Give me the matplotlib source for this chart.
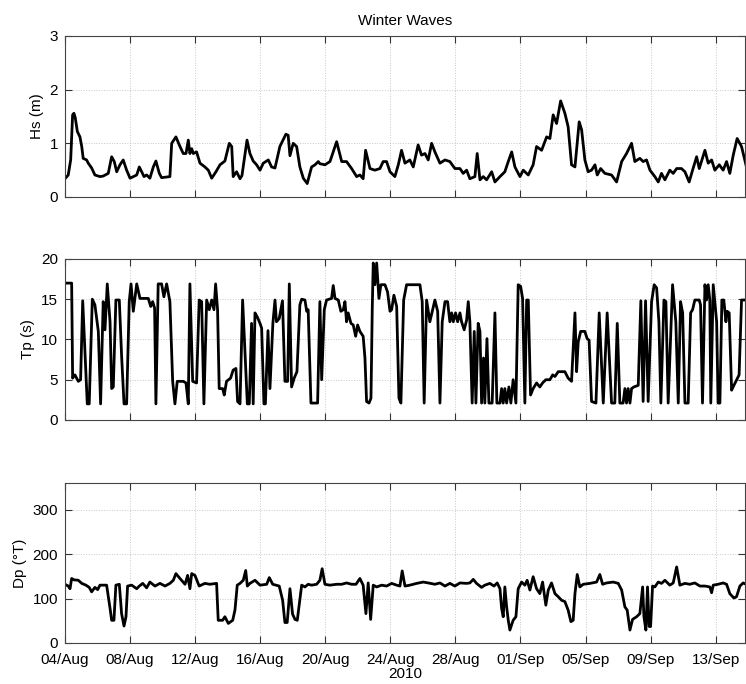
import numpy as np
import pandas as pd
import matplotlib
matplotlib.use("Agg")
import matplotlib.pyplot as plt
import matplotlib.dates as mdates


START = pd.Timestamp("2010-08-04")
END_DAYS = 41.8

# days since 04/Aug 2010 and wave height (m)
hs_day = [0.00, 0.20, 0.35, 0.47, 0.55, 0.63, 0.76, 0.92, 1.03, 1.12, 1.33, 1.43, 1.64, 1.84,
          2.15, 2.35, 2.66, 2.87, 3.03, 3.18, 3.38, 3.58, 3.79, 4.00, 4.41, 4.57, 4.86, 5.02,
          5.22, 5.43, 5.59, 5.80, 5.94, 6.45, 6.56, 6.82, 7.07, 7.27, 7.44, 7.58, 7.68, 7.79,
          7.89, 8.09, 8.30, 8.60, 8.81, 9.02, 9.28, 9.53, 9.83, 10.10, 10.25, 10.34, 10.55,
          10.76, 10.88, 11.19, 11.37, 11.57, 11.78, 11.99, 12.19, 12.50, 12.70, 12.91, 13.21,
          13.58, 13.72, 13.83, 14.03, 14.24, 14.44, 14.65, 14.89, 15.16, 15.37, 15.57, 15.67,
          15.98, 16.29, 16.70, 17.01, 17.31, 17.62, 17.93, 18.13, 18.33, 18.48, 18.75, 19.05,
          19.36, 19.56, 19.77, 19.98, 20.28, 20.49, 20.69, 20.90, 21.20, 21.41, 21.71, 21.92,
          22.13, 22.33, 22.54, 22.74, 23.05, 23.36, 23.66, 23.97, 24.28, 24.48, 24.69, 24.89,
          25.20, 25.34, 25.51, 25.71, 25.92, 26.23, 26.43, 26.74, 27.04, 27.25, 27.46, 27.66,
          27.76, 27.97, 28.17, 28.48, 28.78, 28.99, 29.30, 29.61, 29.81, 30.01, 30.22, 30.47,
          30.73, 30.93, 31.14, 31.35, 31.61, 31.76, 31.96, 32.16, 32.37, 32.58, 32.72, 32.93,
          33.19, 33.60, 33.91, 34.22, 34.52, 34.83, 35.03, 35.34, 35.54, 35.75, 35.96, 36.26,
          36.47, 36.67, 36.88, 37.18, 37.39, 37.60, 37.90, 38.11, 38.37, 38.58, 38.83, 38.99,
          39.34, 39.54, 39.75, 39.95, 40.22, 40.46, 40.67, 40.87, 41.08, 41.32, 41.59, 41.86]
hs_m = [0.34, 0.41, 0.69, 1.53, 1.56, 1.48, 1.22, 1.12, 0.94, 0.72, 0.69, 0.63, 0.54, 0.41,
        0.38, 0.39, 0.44, 0.75, 0.66, 0.47, 0.60, 0.69, 0.50, 0.35, 0.41, 0.56, 0.38, 0.41,
        0.35, 0.56, 0.67, 0.44, 0.36, 0.38, 1.00, 1.12, 0.94, 0.81, 0.81, 1.06, 0.81, 0.90,
        0.81, 0.84, 0.63, 0.56, 0.50, 0.35, 0.47, 0.60, 0.67, 1.00, 0.94, 0.38, 0.47,
        0.34, 0.40, 1.06, 0.81, 0.67, 0.60, 0.50, 0.63, 0.69, 0.56, 0.54, 0.94,
        1.17, 1.15, 0.77, 1.00, 0.94, 0.56, 0.35, 0.25, 0.56, 0.60, 0.66, 0.62,
        0.60, 0.66, 1.03, 0.66, 0.66, 0.53, 0.38, 0.41, 0.34, 0.87, 0.53, 0.50,
        0.53, 0.66, 0.66, 0.47, 0.38, 0.60, 0.87, 0.63, 0.69, 0.56, 0.97, 0.78,
        0.81, 0.69, 1.00, 0.84, 0.63, 0.69, 0.66, 0.53, 0.53, 0.44, 0.50, 0.34,
        0.38, 0.81, 0.32, 0.38, 0.32, 0.47, 0.28, 0.38, 0.47, 0.66, 0.84, 0.56,
        0.50, 0.38, 0.50, 0.41, 0.60, 0.94, 0.87, 1.12, 1.09, 1.53, 1.37, 1.79,
        1.56, 1.31, 0.60, 0.56, 1.40, 1.25, 0.69, 0.47, 0.50, 0.60, 0.41, 0.53,
        0.44, 0.41, 0.28, 0.66, 0.81, 1.00, 0.66, 0.72, 0.66, 0.69, 0.50, 0.38,
        0.28, 0.44, 0.32, 0.50, 0.44, 0.53, 0.53, 0.47, 0.28, 0.50, 0.75, 0.53,
        0.87, 0.63, 0.69, 0.50, 0.60, 0.50, 0.66, 0.44, 0.78, 1.09, 0.94, 0.60]

# days since 04/Aug 2010 and peak period (s)
tp_day = [0.00, 0.41, 0.47, 0.61, 0.82, 0.96, 1.09, 1.37, 1.49, 1.68, 1.84, 2.05, 2.19, 2.35,
          2.46, 2.60, 2.77, 2.87, 2.97, 3.13, 3.34, 3.48, 3.63, 3.79, 3.95, 4.06, 4.20, 4.41,
          4.61, 5.12, 5.27, 5.39, 5.51, 5.59, 5.73, 5.94, 6.08, 6.25, 6.45, 6.62, 6.76, 6.90,
          7.27, 7.44, 7.58, 7.68, 7.85, 8.09, 8.25, 8.40, 8.54, 8.71, 8.87, 9.02, 9.16, 9.26,
          9.38, 9.48, 9.69, 9.79, 9.93, 10.18, 10.34, 10.51, 10.61, 10.76, 10.92, 11.21, 11.33,
          11.47, 11.57, 11.68, 11.82, 11.99, 12.09, 12.23, 12.32, 12.48, 12.60, 12.78, 12.91,
          13.00, 13.17, 13.37, 13.52, 13.69, 13.79, 13.93, 14.09, 14.26, 14.44, 14.55, 14.75,
          14.86, 14.95, 15.12, 15.53, 15.67, 15.78, 15.94, 16.08, 16.39, 16.49, 16.60, 16.80,
          16.96, 17.11, 17.21, 17.31, 17.41, 17.58, 17.72, 17.87, 17.99, 18.13, 18.33, 18.44,
          18.54, 18.69, 18.81, 18.89, 18.95, 19.05, 19.16, 19.30, 19.42, 19.67, 19.83, 19.98,
          20.08, 20.22, 20.39, 20.53, 20.65, 20.82, 21.00, 21.82, 21.96, 22.08, 22.23, 22.43,
          22.60, 22.74, 22.91, 23.05, 23.19, 23.36, 23.52, 23.66, 23.77, 23.87, 24.01, 24.14,
          24.28, 24.38, 24.54, 24.69, 24.79, 24.89, 25.03, 25.16, 25.26, 25.40, 25.51, 25.61,
          25.73, 25.81, 25.94, 26.06, 26.26, 26.43, 26.55, 26.74, 26.84, 26.94, 27.04, 27.15,
          27.29, 27.41, 27.55, 27.72, 27.86, 28.01, 28.13, 28.27, 28.38, 28.48, 28.62, 28.78,
          28.99, 29.19, 29.36, 29.56, 29.81, 29.98, 30.12, 30.32, 30.73, 30.93, 31.14, 31.35,
          31.45, 31.55, 31.70, 31.96, 32.10, 32.22, 32.37, 32.64, 32.84, 33.09, 33.33, 33.60,
          33.80, 33.95, 34.11, 34.31, 34.42, 34.52, 34.62, 34.73, 34.83, 34.97, 35.24, 35.40,
          35.54, 35.69, 35.85, 36.06, 36.22, 36.37, 36.51, 36.63, 36.82, 36.94, 37.08, 37.35,
          37.55, 37.70, 37.84, 37.97, 38.11, 38.31, 38.46, 38.58, 38.72, 38.99, 39.07, 39.19,
          39.34, 39.44, 39.54, 39.64, 39.70, 39.85, 40.06, 40.15, 40.26, 40.38, 40.50, 40.63,
          40.71, 40.83, 40.98, 41.12, 41.44, 41.59, 41.86]
tp_s = [17.0, 17.0, 5.2, 5.6, 4.8, 5.0, 14.8, 2.0, 2.0, 15.0, 14.3, 11.0, 2.0, 14.7,
        11.2, 16.9, 12.2, 3.9, 4.1, 14.9, 14.9, 8.0, 2.0, 2.0, 14.7, 16.9, 13.5, 16.9,
        15.1, 15.1, 14.1, 14.7, 13.9, 2.0, 16.9, 16.9, 15.3, 16.9, 14.7, 4.8, 2.0, 4.8,
        4.8, 4.6, 2.0, 16.9, 4.8, 4.6, 14.9, 14.7, 2.0, 14.9, 13.7, 14.9, 13.7, 16.9,
        13.7, 3.9, 3.9, 3.1, 4.8, 5.2, 6.2, 6.4, 2.3, 2.0, 14.9, 2.0, 2.0,
        12.0, 2.0, 13.3, 12.8, 12.0, 11.4, 2.0, 2.0, 11.1, 3.9, 12.0, 14.9,
        12.2, 12.6, 14.8, 4.8, 4.8, 16.9, 4.1, 5.2, 6.0, 14.3, 15.0, 14.9,
        13.5, 13.7, 2.1, 2.1, 14.7, 5.0, 13.7, 14.9, 15.1, 16.7, 15.1, 14.9,
        13.5, 13.7, 14.7, 12.2, 13.3, 12.0, 11.8, 10.4, 11.8, 11.0, 10.4, 7.7,
        2.3, 2.1, 2.7, 13.9, 19.5, 16.8, 19.5, 15.1, 16.8, 16.8, 15.9, 13.5,
        13.7, 15.5, 14.1, 2.7, 2.1, 14.9, 16.8, 16.8, 14.7, 2.1, 14.9, 12.2,
        13.7, 14.9, 13.5, 2.1, 12.2, 14.7, 14.7, 12.2, 13.3, 12.2, 13.3, 12.2,
        13.3, 12.2, 11.2, 12.4, 14.7, 12.2, 2.1, 11.0, 2.1, 12.0, 11.0, 2.1,
        7.7, 2.1, 10.1, 2.1, 2.1, 13.3, 2.1, 2.1, 3.9, 2.1, 3.9, 2.1,
        4.1, 2.1, 5.0, 2.1, 16.8, 16.6, 15.1, 2.1, 14.9, 14.9, 3.1, 3.9,
        4.6, 4.1, 4.6, 5.0, 5.0, 5.6, 5.4, 6.0, 6.0, 5.2, 4.8, 13.3,
        6.0, 9.7, 11.0, 11.0, 10.1, 9.9, 2.3, 2.1, 13.3, 2.1, 13.3, 2.1,
        2.1, 12.0, 2.1, 2.1, 3.9, 2.1, 3.9, 2.1, 3.9, 4.1, 4.3, 14.8,
        2.3, 14.8, 2.3, 14.7, 16.8, 16.4, 12.2, 2.1, 14.9, 14.7, 2.1, 16.8,
        12.2, 2.1, 14.7, 13.3, 2.1, 2.1, 13.3, 13.7, 14.9, 14.9, 14.3, 2.1,
        16.8, 14.9, 16.8, 14.9, 2.1, 16.8, 12.2, 2.1, 2.1, 14.9, 14.9, 12.2,
        13.5, 13.3, 3.7, 4.3, 5.6, 14.9, 14.9]

# days since 04/Aug 2010 and peak direction (deg True)
dp_day = [0.00, 0.20, 0.31, 0.41, 0.55, 0.82, 1.03, 1.29, 1.49, 1.64, 1.84, 2.01, 2.15, 2.56,
          2.77, 2.87, 3.01, 3.13, 3.34, 3.48, 3.63, 3.75, 3.85, 4.10, 4.41, 4.57, 4.78, 5.02,
          5.22, 5.53, 5.84, 6.15, 6.45, 6.66, 6.82, 7.07, 7.38, 7.54, 7.68, 7.79, 7.99, 8.25,
          8.60, 8.91, 9.32, 9.42, 9.69, 9.83, 10.04, 10.31, 10.45, 10.59, 10.76, 10.96, 11.11,
          11.21, 11.37, 11.68, 11.99, 12.40, 12.56, 12.77, 13.17, 13.38, 13.52, 13.66, 13.83,
          13.99, 14.14, 14.28, 14.55, 14.75, 14.95, 15.16, 15.47, 15.67, 15.81, 15.98, 16.29,
          16.70, 17.01, 17.31, 17.62, 17.89, 18.13, 18.33, 18.50, 18.64, 18.79, 18.95, 19.16,
          19.47, 19.77, 20.08, 20.39, 20.59, 20.73, 20.90, 21.20, 21.62, 22.02, 22.33, 22.74,
          23.05, 23.36, 23.66, 23.97, 24.28, 24.69, 24.89, 25.10, 25.30, 25.61, 25.81, 26.12,
          26.37, 26.57, 26.74, 26.84, 26.94, 27.04, 27.15, 27.25, 27.35, 27.55, 27.72, 27.86,
          28.07, 28.27, 28.41, 28.58, 28.78, 28.99, 29.19, 29.36, 29.56, 29.71, 29.91, 30.12,
          30.32, 30.53, 30.73, 30.93, 31.10, 31.24, 31.35, 31.49, 31.65, 31.86, 32.27, 32.68,
          32.88, 33.05, 33.29, 33.70, 34.01, 34.22, 34.42, 34.56, 34.73, 34.89, 35.14, 35.34,
          35.51, 35.59, 35.71, 35.81, 35.91, 36.00, 36.12, 36.26, 36.47, 36.67, 36.88, 37.18,
          37.39, 37.60, 37.80, 38.11, 38.41, 38.72, 39.03, 39.34, 39.64, 39.75, 39.85, 40.15,
          40.46, 40.67, 40.87, 41.12, 41.28, 41.49, 41.69, 41.86]
dp_deg = [132, 128, 122, 145, 142, 141, 134, 130, 125, 115, 125, 120, 130, 130,
          78, 51, 51, 130, 132, 66, 38, 59, 128, 130, 122, 128, 134, 124,
          137, 128, 134, 128, 134, 141, 156, 145, 132, 152, 122, 156, 152, 128,
          134, 132, 134, 51, 51, 59, 44, 51, 74, 130, 134, 141, 163,
          128, 134, 141, 130, 132, 147, 132, 128, 96, 46, 46, 122,
          65, 53, 51, 130, 126, 132, 130, 132, 141, 167, 132, 130,
          132, 132, 135, 132, 132, 145, 130, 66, 135, 53, 130, 126,
          130, 128, 134, 130, 128, 162, 128, 130, 134, 137, 135, 132,
          135, 128, 134, 128, 135, 134, 135, 143, 134, 125, 130, 134,
          128, 135, 122, 78, 59, 126, 81, 51, 29, 51, 59, 122,
          137, 130, 141, 119, 149, 122, 111, 137, 85, 119, 135, 111,
          104, 96, 93, 74, 48, 51, 111, 154, 126, 132, 134, 137,
          154, 132, 135, 137, 134, 119, 81, 74, 29, 53, 59, 66,
          126, 59, 29, 126, 37, 37, 128, 126, 137, 134, 141, 130,
          135, 171, 130, 134, 132, 135, 128, 128, 126, 113, 130, 132,
          135, 132, 111, 101, 104, 128, 135, 132]


def to_dates(days):
    return START + pd.to_timedelta(np.array(days), unit="D")


def style_axis(ax, ylim, yticks, ylabel):
    ax.set_xlim(START, START + pd.Timedelta(days=END_DAYS))
    ax.set_ylim(*ylim)
    ax.set_yticks(yticks)
    ax.set_ylabel(ylabel, fontsize=11)
    ax.set_xticks(pd.date_range(START, periods=11, freq="4D"))
    ax.xaxis.set_major_formatter(mdates.DateFormatter("%d/%b"))
    ax.grid(True, color="#c8c8c8", linestyle=":", linewidth=0.7)
    ax.tick_params(direction="in", length=5, width=0.8, top=True, right=True,
                   labelsize=11, color="#333333", pad=5)
    ax.tick_params(axis="x", pad=7)
    for spine in ax.spines.values():
        spine.set_color("#444444")
        spine.set_linewidth(0.8)


def main():
    plt.rcParams["font.family"] = ["Liberation Sans", "DejaVu Sans"]

    fig = plt.figure(figsize=(7.46, 6.84), dpi=100)
    ax1 = fig.add_axes([0.0871, 0.712, 0.9115, 0.2354])
    ax2 = fig.add_axes([0.0871, 0.386, 0.9115, 0.2354])
    ax3 = fig.add_axes([0.0871, 0.060, 0.9115, 0.234])

    ax1.plot(to_dates(hs_day), hs_m, color="black", linewidth=2.0)
    ax2.plot(to_dates(tp_day), tp_s, color="black", linewidth=2.0)
    ax3.plot(to_dates(dp_day), dp_deg, color="black", linewidth=2.0)

    style_axis(ax1, (0, 3), [0, 1, 2, 3], "Hs (m)")
    style_axis(ax2, (0, 20), [0, 5, 10, 15, 20], "Tp (s)")
    style_axis(ax3, (0, 360), [0, 100, 200, 300], "Dp (°T)")

    ax1.tick_params(labelbottom=False)
    ax2.tick_params(labelbottom=False)

    ax1.set_title("Winter Waves", fontsize=11, pad=8)
    ax3.set_xlabel("2010", fontsize=11, labelpad=0)

    fig.savefig("out.png", dpi=100)
    plt.close(fig)


if __name__ == "__main__":
    main()
